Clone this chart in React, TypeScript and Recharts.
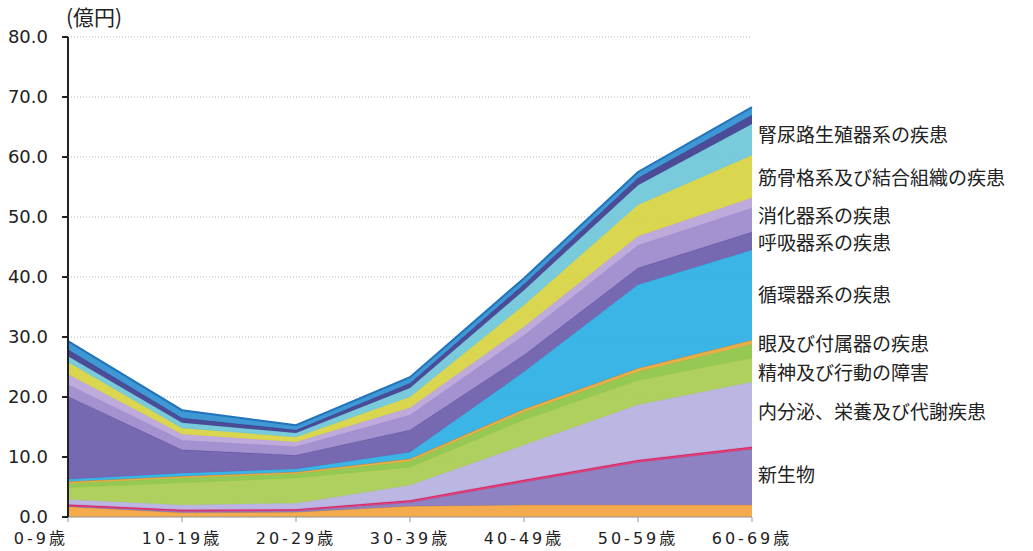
import { Area, AreaChart, CartesianGrid, ReferenceDot, XAxis, YAxis } from "recharts";

const ages = ["0-9歳", "10-19歳", "20-29歳", "30-39歳", "40-49歳", "50-59歳", "60-69歳"];

// 億円, bottom layer first
const infection = [1.7, 0.7, 0.8, 1.8, 2.0, 2.0, 2.0];
const neoplasm = [0.1, 0.2, 0.2, 0.6, 3.8, 7.1, 9.3];
const blood = [0.3, 0.3, 0.3, 0.4, 0.4, 0.4, 0.4];
const endocrine = [0.8, 0.8, 1.0, 2.5, 5.8, 9.2, 10.8];
const mental = [2.0, 3.7, 4.2, 3.0, 4.2, 4.1, 4.0];
const nervous = [0.7, 0.8, 0.7, 1.0, 1.3, 1.4, 2.3];
const eye = [0.3, 0.3, 0.3, 0.4, 0.5, 0.6, 0.7];
const circulatory = [0.4, 0.5, 0.5, 1.1, 6.2, 13.9, 15.0];
const respiratory = [13.8, 3.9, 2.3, 3.7, 2.8, 2.8, 3.0];
const digestive = [2.0, 1.6, 1.4, 2.5, 3.3, 3.8, 4.0];
const skin = [1.7, 1.0, 0.8, 1.2, 1.4, 1.5, 1.7];
const musculo = [2.0, 1.0, 0.8, 1.8, 3.6, 5.2, 7.1];
const genito = [1.0, 0.9, 0.7, 1.5, 2.5, 3.3, 5.2];
const injury = [1.1, 0.8, 0.5, 0.8, 1.0, 1.2, 1.5];
const other = [1.4, 1.3, 0.8, 1.0, 1.0, 1.0, 1.3];

const yTicks = [0, 10, 20, 30, 40, 50, 60, 70, 80];

const series = [
  { key: "感染症", values: infection, fill: "#f2a43e", stroke: "#e8962c", width: 1 },
  { key: "新生物", values: neoplasm, fill: "#8477bd", stroke: "#8477bd", width: 1 },
  { key: "血液", values: blood, fill: "#e0306c", stroke: "#d42060", width: 1.5 },
  { key: "内分泌、栄養及び代謝疾患", values: endocrine, fill: "#b6b0e0", stroke: "#b6b0e0", width: 1 },
  { key: "精神及び行動の障害", values: mental, fill: "#a8cc50", stroke: "#a8cc50", width: 1 },
  { key: "神経系", values: nervous, fill: "#8cc444", stroke: "#8cc444", width: 1 },
  { key: "眼及び付属器の疾患", values: eye, fill: "#e4a83c", stroke: "#c98a30", width: 1 },
  { key: "循環器系の疾患", values: circulatory, fill: "#2aaee4", stroke: "#2aaee4", width: 1 },
  { key: "呼吸器系の疾患", values: respiratory, fill: "#6a5caa", stroke: "#5e509e", width: 1 },
  { key: "消化器系の疾患", values: digestive, fill: "#9c88cc", stroke: "#9c88cc", width: 1 },
  { key: "皮膚", values: skin, fill: "#b9a4d8", stroke: "#b9a4d8", width: 1 },
  { key: "筋骨格系及び結合組織の疾患", values: musculo, fill: "#d8d240", stroke: "#d8d240", width: 1 },
  { key: "腎尿路生殖器系の疾患", values: genito, fill: "#6ec6d8", stroke: "#6ec6d8", width: 1 },
  { key: "損傷", values: injury, fill: "#3c3c8e", stroke: "#3c3c8e", width: 1 },
  { key: "その他", values: other, fill: "#2f8fd0", stroke: "#1f74bc", width: 2 },
];

const labelNames = [
  "腎尿路生殖器系の疾患",
  "筋骨格系及び結合組織の疾患",
  "消化器系の疾患",
  "呼吸器系の疾患",
  "循環器系の疾患",
  "眼及び付属器の疾患",
  "精神及び行動の障害",
  "内分泌、栄養及び代謝疾患",
  "新生物",
];
const labelValues = [63.7, 56.5, 50.2, 45.7, 37.0, 28.8, 23.9, 17.5, 7.0];

const data = ages.map((age, i) => {
  const row: Record<string, string | number> = { age };
  series.forEach((s) => {
    row[s.key] = s.values[i];
  });
  return row;
});

const font = "'Noto Sans CJK JP', 'Noto Sans', sans-serif";
const numFont = "'DejaVu Sans', 'Noto Sans CJK JP', sans-serif";

const AgeTick = (props: any) => {
  const { x, y, payload, index } = props;
  const first = index === 0;
  return (
    <text
      x={first ? x : x}
      y={y + 20}
      textAnchor={first ? "end" : "middle"}
      fill="#222"
      fontSize={16}
      fontFamily={numFont}
      letterSpacing={3}
    >
      {payload.value}
    </text>
  );
};

export default function App() {
  return (
    <div style={{ position: "absolute", left: 0, top: 0, width: 1033, height: 551, background: "#fff", fontFamily: font }}>
      <span style={{ position: "absolute", left: 66, top: 1, fontSize: 21, color: "#222" }}>(億円)</span>
      <AreaChart width={1033} height={551} data={data} margin={{ top: 37, right: 281, left: 0, bottom: 4 }}>
        <CartesianGrid vertical={false} stroke="#b8b8b8" strokeDasharray="1 2" />
        <XAxis
          dataKey="age"
          height={30}
          tickSize={5}
          tick={<AgeTick />}
          stroke="#999"
          interval={0}
        />
        <YAxis
          width={68}
          domain={[0, 80]}
          ticks={yTicks}
          tickFormatter={(v) => Number(v).toFixed(1)}
          tickSize={6}
          tickMargin={14}
          stroke="#222"
          strokeWidth={2}
          tick={{ fill: "#222", fontSize: 18, fontFamily: numFont }}
        />
        {series.map((s) => (
          <Area
            key={s.key}
            type="linear"
            dataKey={s.key}
            stackId="a"
            fill={s.fill}
            fillOpacity={0.92}
            stroke={s.stroke}
            strokeWidth={s.width}
            isAnimationActive={false}
          />
        ))}
        {labelNames.map((name, i) => (
          <ReferenceDot
            key={name}
            x="60-69歳"
            y={labelValues[i]}
            r={0}
            ifOverflow="visible"
            label={{ value: name, position: "right", offset: 6, fill: "#222", fontSize: 19, fontFamily: font }}
          />
        ))}
      </AreaChart>
    </div>
  );
}
